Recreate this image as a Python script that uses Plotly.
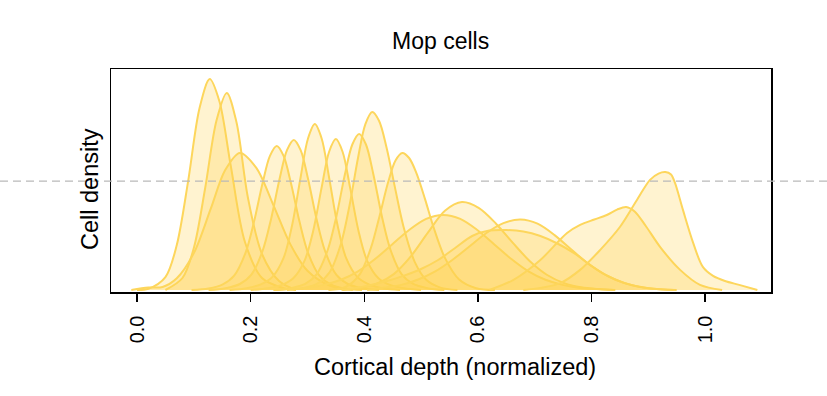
import plotly.graph_objects as go

# ---- data (x = normalized cortical depth, y = density) ----
c1_x = [0.0, 0.02, 0.05, 0.07, 0.09, 0.11, 0.128, 0.145, 0.165, 0.19, 0.22, 0.26, 0.28]
c1_y = [0.0, 0.04, 0.43, 1.50, 3.63, 6.06, 7.03, 6.29, 4.14, 1.60, 0.40, 0.05, 0.0]

c2_x = [0.05, 0.08, 0.10, 0.12, 0.14, 0.158, 0.175, 0.195, 0.22, 0.25, 0.28]
c2_y = [0.0, 0.40, 1.40, 3.40, 5.66, 6.57, 5.60, 3.10, 1.20, 0.30, 0.0]

c3_x = [-0.01, 0.02, 0.045, 0.07, 0.10, 0.13, 0.155, 0.181, 0.21, 0.24, 0.27, 0.30, 0.34, 0.38]
c3_y = [0.0, 0.08, 0.10, 0.39, 1.23, 2.72, 3.99, 4.57, 4.07, 2.83, 1.52, 0.64, 0.14, 0.0]

c4_x = [0.096, 0.126, 0.151, 0.171, 0.191, 0.206, 0.221, 0.234, 0.246, 0.258, 0.271, 0.286, 0.301, 0.321, 0.341, 0.366, 0.396]
c4_y = [0.0, 0.05, 0.19, 0.48, 1.24, 2.28, 3.56, 4.47, 4.80, 4.47, 3.56, 2.28, 1.24, 0.48, 0.19, 0.05, 0.0]

c5_x = [0.126, 0.156, 0.181, 0.201, 0.221, 0.236, 0.251, 0.264, 0.276, 0.288, 0.301, 0.316, 0.331, 0.351, 0.371, 0.396, 0.426]
c5_y = [0.0, 0.06, 0.20, 0.50, 1.30, 2.37, 3.71, 4.66, 5.00, 4.66, 3.71, 2.37, 1.30, 0.50, 0.20, 0.06, 0.0]

c6_x = [0.163, 0.193, 0.218, 0.238, 0.258, 0.273, 0.288, 0.301, 0.313, 0.325, 0.338, 0.353, 0.368, 0.388, 0.408, 0.433, 0.463]
c6_y = [0.0, 0.06, 0.19, 0.43, 1.07, 2.16, 3.76, 5.05, 5.53, 5.05, 3.76, 2.16, 1.07, 0.43, 0.19, 0.06, 0.0]

c7_x = [0.20, 0.23, 0.255, 0.275, 0.295, 0.31, 0.325, 0.338, 0.35, 0.362, 0.375, 0.39, 0.405, 0.425, 0.445, 0.47, 0.50]
c7_y = [0.0, 0.06, 0.17, 0.39, 0.98, 1.96, 3.42, 4.60, 5.03, 4.60, 3.42, 1.96, 0.98, 0.39, 0.17, 0.06, 0.0]

c8_x = [0.241, 0.271, 0.296, 0.316, 0.336, 0.351, 0.366, 0.379, 0.391, 0.403, 0.416, 0.431, 0.446, 0.466, 0.486, 0.511, 0.541]
c8_y = [0.0, 0.06, 0.20, 0.52, 1.35, 2.46, 3.86, 4.85, 5.20, 4.85, 3.86, 2.46, 1.35, 0.52, 0.20, 0.06, 0.0]

c9_x = [0.264, 0.294, 0.319, 0.339, 0.359, 0.374, 0.389, 0.402, 0.414, 0.426, 0.439, 0.454, 0.469, 0.489, 0.509, 0.534, 0.564]
c9_y = [0.0, 0.07, 0.23, 0.59, 1.54, 2.81, 4.40, 5.53, 5.93, 5.64, 4.77, 3.42, 2.12, 0.93, 0.34, 0.08, 0.0]

c10_x = [0.337, 0.367, 0.392, 0.412, 0.427, 0.442, 0.455, 0.467, 0.479, 0.492, 0.507, 0.522, 0.542, 0.567, 0.597, 0.63]
c10_y = [0.0, 0.10, 0.52, 1.42, 2.47, 3.59, 4.32, 4.57, 4.40, 3.89, 3.03, 2.09, 1.07, 0.35, 0.06, 0.0]

c11_x = [0.362, 0.392, 0.422, 0.452, 0.482, 0.512, 0.542, 0.572, 0.602, 0.632, 0.662, 0.692, 0.722, 0.752, 0.782, 0.812, 0.842]
c11_y = [0.0, 0.06, 0.21, 0.53, 1.12, 1.91, 2.64, 2.93, 2.73, 2.21, 1.56, 0.95, 0.50, 0.23, 0.09, 0.03, 0.0]

c12_x = [0.24, 0.269, 0.299, 0.329, 0.359, 0.389, 0.419, 0.449, 0.479, 0.509, 0.539, 0.569, 0.599, 0.629, 0.659, 0.689, 0.719, 0.749, 0.779, 0.809, 0.839]
c12_y = [0.0, 0.03, 0.07, 0.17, 0.34, 0.62, 1.03, 1.52, 2.00, 2.37, 2.50, 2.37, 2.00, 1.52, 1.03, 0.62, 0.34, 0.17, 0.07, 0.03, 0.0]

c13_x = [0.405, 0.435, 0.465, 0.495, 0.525, 0.555, 0.585, 0.615, 0.645, 0.675, 0.705, 0.735, 0.765, 0.795, 0.825, 0.855, 0.885, 0.915, 0.945]
c13_y = [0.0, 0.08, 0.17, 0.35, 0.62, 1.00, 1.45, 1.90, 2.23, 2.35, 2.21, 1.83, 1.34, 0.87, 0.50, 0.25, 0.10, 0.03, 0.0]

c14_x = [0.36, 0.40, 0.44, 0.47, 0.50, 0.53, 0.56, 0.59, 0.62, 0.65, 0.68, 0.71, 0.74, 0.77, 0.80, 0.83, 0.86, 0.90, 0.95]
c14_y = [0.0, 0.12, 0.30, 0.48, 0.70, 1.00, 1.40, 1.80, 1.98, 2.00, 1.95, 1.80, 1.55, 1.22, 0.80, 0.45, 0.22, 0.06, 0.0]

c15_x = [0.62, 0.662, 0.71, 0.757, 0.78, 0.805, 0.827, 0.845, 0.861, 0.876, 0.895, 0.921, 0.956, 0.991, 1.03]
c15_y = [0.0, 0.33, 1.00, 1.90, 2.17, 2.35, 2.50, 2.68, 2.77, 2.62, 2.15, 1.43, 0.67, 0.17, 0.0]

c16_x = [0.68, 0.71, 0.745, 0.78, 0.815, 0.85, 0.88, 0.903, 0.918, 0.93, 0.94, 0.947, 0.961, 0.979, 0.996, 1.014, 1.035, 1.06, 1.092]
c16_y = [0.0, 0.07, 0.23, 0.67, 1.33, 2.10, 3.00, 3.67, 3.88, 3.93, 3.85, 3.57, 2.67, 1.57, 0.77, 0.47, 0.30, 0.17, 0.0]

curves_x = [c1_x, c2_x, c3_x, c4_x, c5_x, c6_x, c7_x, c8_x, c9_x, c10_x, c11_x, c12_x, c13_x, c14_x, c15_x, c16_x]
curves_y = [c1_y, c2_y, c3_y, c4_y, c5_y, c6_y, c7_y, c8_y, c9_y, c10_y, c11_y, c12_y, c13_y, c14_y, c15_y, c16_y]

tick_vals = [0.0, 0.2, 0.4, 0.6, 0.8, 1.0]
tick_text = ["0.0", "0.2", "0.4", "0.6", "0.8", "1.0"]
ref_line_y = 3.63

title_text = "Mop cells"
x_title = "Cortical depth (normalized)"
y_title = "Cell density"

# ---- styling ----
LINE = "rgb(253,214,92)"
FILL = "rgba(255,212,80,0.27)"
FONT = "Liberation Sans, Arial, Helvetica, sans-serif"
X_RANGE = [-0.0458, 1.116]
Y_RANGE = [-0.067, 7.367]

fig = go.Figure()
for xs, ys in zip(curves_x, curves_y):
    fig.add_trace(go.Scatter(
        x=xs, y=ys, mode="lines",
        line=dict(color=LINE, width=2, shape="spline", smoothing=0.9),
        fill="tozeroy", fillcolor=FILL, hoverinfo="skip", showlegend=False,
    ))

W, H = 827, 396
ml, mt = 111, 69
pw, ph = 660, 223
mr = W - ml - pw
mb = H - mt - ph

ref_paper = (ref_line_y - Y_RANGE[0]) / (Y_RANGE[1] - Y_RANGE[0])
fig.add_shape(type="line", xref="paper", yref="paper",
              x0=-ml / pw, x1=(W - ml) / pw, y0=ref_paper, y1=ref_paper,
              line=dict(color="rgb(185,185,185)", width=1.3, dash="8px,5px"),
              layer="above")

fig.update_layout(
    width=W, height=H,
    margin=dict(l=ml, r=mr, t=mt, b=mb),
    paper_bgcolor="white", plot_bgcolor="white",
    font=dict(family=FONT, color="black"),
    xaxis=dict(range=X_RANGE, tickvals=tick_vals, ticktext=tick_text,
               tickangle=-90, ticks="outside", ticklen=8, tickwidth=1.3,
               tickcolor="black", showline=True, mirror=True, linecolor="black",
               linewidth=1.5, showgrid=False, zeroline=False,
               tickfont=dict(size=20, family=FONT, color="black"),
               ticklabelstandoff=6),
    yaxis=dict(range=Y_RANGE, showticklabels=False, ticks="", showline=True,
               mirror=True, linecolor="black", linewidth=1.5,
               showgrid=False, zeroline=False),
    annotations=[
        dict(text=title_text, xref="paper", yref="paper", x=(440 - ml) / pw, y=1,
             yshift=28, xanchor="center", yanchor="middle", showarrow=False,
             font=dict(size=23, family=FONT, color="black")),
        dict(text=x_title, xref="paper", yref="paper", x=(455 - ml) / pw, y=0,
             yshift=-75, xanchor="center", yanchor="middle", showarrow=False,
             font=dict(size=23.5, family=FONT, color="black")),
        dict(text=y_title, xref="paper", yref="paper", x=0, xshift=-21,
             y=(292 - 189) / ph, xanchor="center", yanchor="middle",
             textangle=-90, showarrow=False,
             font=dict(size=23.5, family=FONT, color="black")),
    ],
)

fig.write_html("out.html",
               config={"displayModeBar": False, "staticPlot": True},
               post_script="document.body.style.margin='0px';")
